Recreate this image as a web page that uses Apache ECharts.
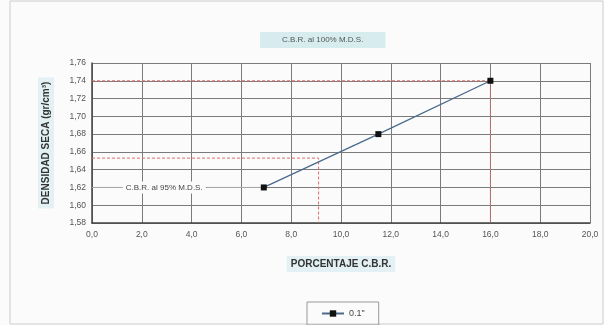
<!DOCTYPE html>
<html>
<head>
<meta charset="utf-8">
<script src="https://cdn.jsdelivr.net/npm/echarts@6/dist/echarts.min.js"></script>
<style>
html,body{margin:0;padding:0;background:#fbfbfb;}
#c{width:604px;height:325px;}
</style>
</head>
<body>
<div id="c"></div>
<script>
// Data
const seriesName = '0.1"';
const cbrValues = [6.9, 11.5, 16.0];
const densityValues = [1.62, 1.68, 1.74];
const ref100X = [0, 16.0, 16.0];
const ref100Y = [1.74, 1.74, 1.58];
const ref95X = [0, 9.1, 9.1];
const ref95Y = [1.653, 1.653, 1.58];
const label95X = [0, 6.9];
const label95Y = [1.62, 1.62];
const titleText = 'C.B.R. al 100% M.D.S.';
const label95Text = 'C.B.R. al 95% M.D.S.';
const xName = 'PORCENTAJE C.B.R.';
const yName = 'DENSIDAD SECA (gr/cm³)';

const zip = (a, b) => a.map((v, i) => [v, b[i]]);
const comma = (v, d) => v.toFixed(d).replace('.', ',');

const chart = echarts.init(document.getElementById('c'));
chart.setOption({
  backgroundColor: '#fbfbfb',
  animation: false,
  textStyle: { fontFamily: 'Liberation Sans' },
  title: {
    text: titleText, left: 260, top: 32,
    backgroundColor: '#d6ecef', padding: [4, 22, 4, 22],
    textStyle: { fontSize: 8, fontWeight: 'normal', color: '#555' }
  },
  legend: {
    bottom: 0, left: 307,
    data: [seriesName],
    borderColor: '#999', borderWidth: 1, padding: [7, 14, 7, 14],
    itemWidth: 22, itemHeight: 8,
    textStyle: { fontSize: 9, color: '#444' }
  },
  grid: { left: 92, right: 14, top: 63, bottom: 102 },
  xAxis: {
    type: 'value', min: 0, max: 20, interval: 2,
    name: xName, nameLocation: 'middle', nameGap: 33,
    nameTextStyle: { fontSize: 10, fontWeight: 'bold', color: '#333',
      backgroundColor: '#e3f1f4', padding: [3, 4, 3, 4] },
    axisLine: { lineStyle: { color: '#444', width: 1.5 } },
    axisTick: { show: false },
    axisLabel: { fontSize: 8.5, color: '#555', margin: 7, formatter: v => comma(v, 1) },
    splitLine: { lineStyle: { color: '#7a7a7a', width: 1 } }
  },
  yAxis: {
    type: 'value', min: 1.58, max: 1.76, interval: 0.02,
    name: yName, nameLocation: 'middle', nameGap: 38,
    nameTextStyle: { fontSize: 10, fontWeight: 'bold', color: '#333',
      backgroundColor: '#e3f1f4', padding: [3, 4, 3, 4] },
    axisLine: { show: true, lineStyle: { color: '#444', width: 1.5 } },
    axisTick: { show: false },
    axisLabel: { fontSize: 8.5, color: '#555', margin: 6, formatter: v => comma(v, 2) },
    splitLine: { lineStyle: { color: '#7a7a7a', width: 1 } }
  },
  series: [
    {
      name: 'ref100', type: 'line', data: zip(ref100X, ref100Y),
      symbol: 'none', silent: true,
      lineStyle: { color: '#e06a6a', width: 1, type: [3, 2] }, z: 3
    },
    {
      name: 'ref95', type: 'line', data: zip(ref95X, ref95Y),
      symbol: 'none', silent: true,
      lineStyle: { color: '#e06a6a', width: 1, type: [3, 2] }, z: 3
    },
    {
      name: 'label95', type: 'line', data: zip(label95X, label95Y),
      symbol: 'none', silent: true,
      lineStyle: { color: '#aaa', width: 1 }, z: 3,
      markPoint: {
        symbol: 'rect', symbolSize: 1, silent: true,
        itemStyle: { color: 'rgba(0,0,0,0)' },
        data: [{ coord: [2.9, 1.62] }],
        label: { show: true, position: 'inside', formatter: label95Text,
          fontSize: 8, color: '#444', backgroundColor: '#fbfbfb', padding: [2, 3, 2, 3] }
      }
    },
    {
      name: seriesName, type: 'line', data: zip(cbrValues, densityValues),
      symbol: 'rect', symbolSize: 6,
      lineStyle: { color: '#4a6a8c', width: 1.3 },
      itemStyle: { color: '#111' }, z: 5
    }
  ],
  graphic: [
    { type: 'rect', shape: { x: 10, y: 1, width: 593, height: 323 },
      style: { fill: 'none', stroke: '#ccc', lineWidth: 1 }, silent: true }
  ]
});
</script>
</body>
</html>
